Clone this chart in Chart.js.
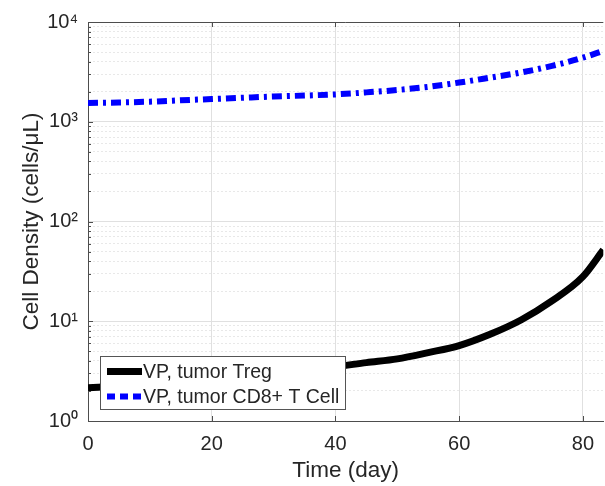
<!DOCTYPE html>
<html><head><meta charset="utf-8">
<script src="https://cdn.jsdelivr.net/npm/chart.js@4.4.1/dist/chart.umd.min.js"></script>
<style>html,body{margin:0;padding:0;background:#fff;overflow:hidden}</style>
</head><body>
<canvas id="c" width="605" height="486"></canvas>
<script>
const days = [0, 5, 10, 15, 20, 25, 30, 35, 40, 45, 50, 55, 60, 65, 70, 75, 80, 83.3];
const tregValues = [2.15, 2.25, 2.38, 2.5, 2.65, 2.8, 3.0, 3.25, 3.5, 3.85, 4.2, 4.85, 5.7, 7.4, 10.3, 16, 28, 52];
const cd8Values = [1540, 1560, 1590, 1640, 1690, 1740, 1790, 1830, 1880, 1970, 2080, 2240, 2470, 2770, 3120, 3630, 4390, 5140];
const xTickValues = [0, 20, 40, 60, 80];
const yMajorTicks = [1, 10, 100, 1000, 10000];
const yTickLabels = ['10⁰', '10¹', '10²', '10³', '10⁴'];
const seriesLabels = ['VP, tumor Treg', 'VP, tumor CD8+ T Cell'];
const xTitle = 'Time (day)';
const yTitle = 'Cell Density (cells/μL)';
const X_MAX = 83.3;

const FONT = "'Liberation Sans', Arial, Helvetica, sans-serif";
const TXT = '#262626';
const AXIS = '#4d4d4d';

const yAllTicks = [];
yMajorTicks.forEach((m, i) => {
  yAllTicks.push({ value: m, major: true });
  if (i < yMajorTicks.length - 1) {
    for (let k = 2; k <= 9; k++) yAllTicks.push({ value: m * k, major: false });
  }
});

const framePlugin = {
  id: 'frame',
  afterDraw(chart) {
    const { ctx, chartArea: a, scales: { x, y } } = chart;
    ctx.save();
    ctx.strokeStyle = AXIS;
    ctx.lineWidth = 1;
    ctx.setLineDash([]);
    ctx.beginPath();
    ctx.moveTo(a.left, a.top + 0.5);
    ctx.lineTo(a.right, a.top + 0.5);
    xTickValues.forEach(v => {
      const px = Math.round(x.getPixelForValue(v)) + 0.5;
      ctx.moveTo(px, a.bottom); ctx.lineTo(px, a.bottom - 5);
      ctx.moveTo(px, a.top); ctx.lineTo(px, a.top + 5);
    });
    yAllTicks.forEach(t => {
      const py = Math.round(y.getPixelForValue(t.value)) + 0.5;
      ctx.moveTo(a.left, py); ctx.lineTo(a.left + (t.major ? 5 : 3), py);
    });
    ctx.stroke();

    // legend box
    const bx = 100.5, by = 356.5, bw = 245, bh = 53;
    ctx.fillStyle = '#ffffff';
    ctx.fillRect(bx, by, bw, bh);
    ctx.strokeStyle = '#555555';
    ctx.strokeRect(bx, by, bw, bh);
    const rows = [371.5, 396.5];
    chart.data.datasets.forEach((ds, i) => {
      ctx.save();
      ctx.strokeStyle = ds.borderColor;
      ctx.lineWidth = ds.borderWidth;
      ctx.setLineDash(ds.legendDash || []);
      ctx.lineCap = 'butt';
      ctx.beginPath();
      ctx.moveTo(107, rows[i]);
      ctx.lineTo(142, rows[i]);
      ctx.stroke();
      ctx.restore();
      ctx.fillStyle = TXT;
      ctx.font = "19.5px " + FONT;
      ctx.textBaseline = 'middle';
      ctx.textAlign = 'left';
      ctx.fillText(ds.label, 143, rows[i] + 1.5);
    });
    ctx.restore();
  }
};

new Chart(document.getElementById('c'), {
  type: 'line',
  data: {
    datasets: [
      {
        label: seriesLabels[0],
        data: days.map((d, i) => ({ x: d, y: tregValues[i] })),
        borderColor: '#000000', borderWidth: 7, pointRadius: 0,
        cubicInterpolationMode: 'monotone', fill: false
      },
      {
        label: seriesLabels[1],
        data: days.map((d, i) => ({ x: d, y: cd8Values[i] })),
        borderColor: '#0000ff', borderWidth: 6, pointRadius: 0,
        borderDash: [10, 5, 3, 5], legendDash: [8, 5],
        cubicInterpolationMode: 'monotone', fill: false
      }
    ]
  },
  options: {
    responsive: false, animation: false, devicePixelRatio: 1,
    layout: { padding: { top: 19, right: 0, left: 0, bottom: 0 } },
    plugins: { legend: { display: false }, tooltip: { enabled: false } },
    scales: {
      x: {
        type: 'linear', min: 0, max: X_MAX,
        afterBuildTicks: s => { s.ticks = xTickValues.map(v => ({ value: v })); },
        afterFit: s => { s.height = 65; },
        ticks: { font: { family: FONT, size: 20 }, color: TXT, padding: 11, maxRotation: 0, autoSkip: false },
        grid: { color: '#e0e0e0', drawTicks: false, lineWidth: 1 },
        border: { color: AXIS, width: 1 },
        title: { display: true, text: xTitle, font: { family: FONT, size: 22.5 }, color: TXT, padding: { top: 0, bottom: 2 } }
      },
      y: {
        type: 'logarithmic', min: 1, max: 10000,
        afterBuildTicks: s => { s.ticks = yAllTicks.map(t => ({ value: t.value, major: t.major })); },
        afterFit: s => { s.width = 88; },
        ticks: {
          font: { family: FONT, size: 20 }, color: TXT, padding: 10, autoSkip: false,
          callback: v => { const i = yMajorTicks.indexOf(v); return i >= 0 ? yTickLabels[i] : ''; }
        },
        grid: {
          drawTicks: false, lineWidth: 1,
          color: c => (c.type === 'tick' && c.tick && !c.tick.major) ? '#e8e8e8' : '#e0e0e0'
        },
        border: {
          color: AXIS, width: 1,
          dash: c => (c.type === 'tick' && c.tick && !c.tick.major) ? [2, 2] : []
        },
        title: { display: true, text: yTitle, font: { family: FONT, size: 22.5 }, color: TXT, padding: { top: 18, bottom: 0 } }
      }
    }
  },
  plugins: [framePlugin]
});
</script>
</body></html>
